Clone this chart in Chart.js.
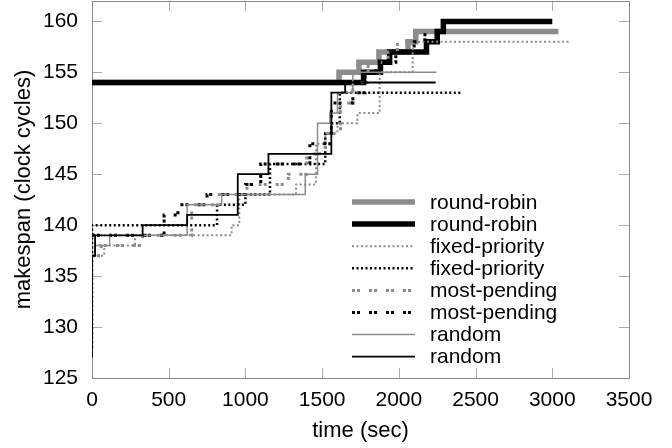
<!DOCTYPE html>
<html>
<head>
<meta charset="utf-8">
<script src="https://cdn.jsdelivr.net/npm/chart.js@4.4.1/dist/chart.umd.min.js"></script>
<style>
  html, body { margin: 0; padding: 0; background: #fff; }
  #wrap { width: 672px; height: 448px; }
</style>
</head>
<body>
<div id="wrap"><canvas id="chart" width="672" height="448"></canvas></div>
<script>
// tick labels
const xTicks = [0, 500, 1000, 1500, 2000, 2500, 3000, 3500];
const yTicks = [125, 130, 135, 140, 145, 150, 155, 160];

// series: step times (sec) and makespan values
const rrGrayT = [0, 1610, 1740, 1870, 2060, 2110, 3040];
const rrGrayV = [154, 155, 156, 157, 158, 159, 159];

const rrBlackT = [0, 1770, 1880, 1940, 2180, 2250, 2290, 3000];
const rrBlackV = [154, 155, 156, 157, 158, 159, 160, 160];

const fpGrayT = [0, 80, 280, 910, 960, 1330, 1460, 1520, 1600, 1730, 1875, 2090, 3110];
const fpGrayV = [137, 138, 139, 140, 143, 144, 148, 149, 150, 151, 155, 158, 158];

const fpBlackT = [0, 0, 815, 1000, 1160, 1520, 1560, 1615, 2410];
const fpBlackV = [128, 140, 142, 143, 146, 149, 150, 153, 153];

const mpGrayT = [0, 60, 330, 650, 820, 1010, 1280, 1400, 1520, 1620, 1700, 1800, 1930, 1990, 2100];
const mpGrayV = [137, 138, 139, 142, 143, 144, 145, 147, 149, 152, 154, 156, 157, 158, 158];

const mpBlackT = [0, 470, 560, 750, 1000, 1100, 1420, 1560, 1700, 1780, 1850, 1980, 2100, 2170, 2200];
const mpBlackV = [139, 141, 142, 143, 144, 146, 148, 152, 153, 155, 156, 157, 158, 159, 159];

const rndGrayT = [0, 20, 115, 620, 845, 1390, 1470, 1550, 1600, 1700, 2245];
const rndGrayV = [137, 138, 139, 142, 143, 145, 150, 151, 153, 155, 155];

const rndBlackT = [0, 0, 20, 330, 620, 950, 1150, 1560, 1650, 2240];
const rndBlackV = [127, 137, 139, 140, 141, 145, 147, 153, 154, 154];

const GRAY = '#8c8c8c';
const BLACK = '#000000';
const FONT = '"Liberation Sans", Arial, sans-serif';

const toPoints = (ts, vs) => ts.map((t, i) => ({ x: t, y: vs[i] }));

function series(label, ts, vs, color, width, dash, idx) {
    return {
        label,
        data: toPoints(ts, vs),
        borderColor: color,
        borderWidth: width,
        borderDash: dash,
        borderCapStyle: 'butt',
        stepped: true,
        pointRadius: 0,
        fill: false,
        order: 8 - idx   // later series drawn on top, like gnuplot
    };
}

const datasets = [
    series('round-robin', rrGrayT, rrGrayV, GRAY, 5.5, [], 0),
    series('round-robin', rrBlackT, rrBlackV, BLACK, 5.5, [], 1),
    series('fixed-priority', fpGrayT, fpGrayV, GRAY, 2, [2, 2.5], 2),
    series('fixed-priority', fpBlackT, fpBlackV, BLACK, 2.5, [2, 2.5], 3),
    series('most-pending', mpGrayT, mpGrayV, GRAY, 3, [3, 2, 3, 9], 4),
    series('most-pending', mpBlackT, mpBlackV, BLACK, 3, [3, 2, 3, 9], 5),
    series('random', rndGrayT, rndGrayV, GRAY, 1.5, [], 6),
    series('random', rndBlackT, rndBlackV, BLACK, 1.8, [], 7)
];

// gnuplot-style frame with inward ticks on all four sides
const framePlugin = {
    id: 'frame',
    beforeDatasetsDraw(chart) {
        const { ctx, chartArea: a, scales } = chart;
        ctx.save();
        ctx.strokeStyle = '#aaaaaa';
        ctx.lineWidth = 1;
        ctx.beginPath();
        scales.x.ticks.forEach(t => {
            const px = Math.round(scales.x.getPixelForValue(t.value)) + 0.5;
            ctx.moveTo(px, a.bottom); ctx.lineTo(px, a.bottom - 10);
            ctx.moveTo(px, a.top); ctx.lineTo(px, a.top + 10);
        });
        scales.y.ticks.forEach(t => {
            const py = Math.round(scales.y.getPixelForValue(t.value)) + 0.5;
            ctx.moveTo(a.left, py); ctx.lineTo(a.left + 10, py);
            ctx.moveTo(a.right, py); ctx.lineTo(a.right - 10, py);
        });
        ctx.stroke();
        ctx.strokeStyle = '#888888';
        ctx.strokeRect(Math.round(a.left) + 0.5, Math.round(a.top) + 0.5,
            Math.round(a.right - a.left), Math.round(a.bottom - a.top));
        ctx.restore();
    }
};

// key drawn inside the plot, lower right
const keyPlugin = {
    id: 'key',
    afterDatasetsDraw(chart) {
        const ctx = chart.ctx;
        ctx.save();
        chart.data.datasets.forEach((ds, i) => {
            const y = 202 + i * 22.1;
            ctx.strokeStyle = ds.borderColor;
            ctx.lineWidth = ds.borderWidth;
            ctx.lineCap = 'butt';
            ctx.setLineDash(ds.borderDash || []);
            ctx.beginPath();
            ctx.moveTo(352, y);
            ctx.lineTo(415, y);
            ctx.stroke();
            ctx.setLineDash([]);
            ctx.fillStyle = '#000';
            ctx.font = '21px ' + FONT;
            ctx.textBaseline = 'middle';
            ctx.textAlign = 'left';
            ctx.fillText(ds.label, 430, y + 1);
        });
        ctx.restore();
    }
};

Chart.defaults.font.family = FONT;
Chart.defaults.font.size = 21;
Chart.defaults.color = '#000';

new Chart(document.getElementById('chart'), {
    type: 'line',
    data: { datasets },
    options: {
        responsive: false,
        animation: false,
        devicePixelRatio: 1,
        layout: { padding: { top: 1, right: 43, left: 0, bottom: 0 } },
        plugins: {
            legend: { display: false },
            tooltip: { enabled: false }
        },
        scales: {
            x: {
                type: 'linear',
                min: 0,
                max: 3500,
                afterBuildTicks: s => { s.ticks = xTicks.map(v => ({ value: v })); },
                afterFit: s => { s.height = 70; s.paddingLeft = 0; s.paddingRight = 0; },
                grid: { display: false, drawTicks: false },
                border: { display: false },
                ticks: { padding: 10, maxRotation: 0, callback: v => String(v) },
                title: { display: true, text: 'time (sec)', padding: 4, font: { size: 22 } }
            },
            y: {
                type: 'linear',
                min: 125,
                max: 162,
                afterBuildTicks: s => { s.ticks = yTicks.map(v => ({ value: v })); },
                afterFit: s => { s.width = 92; s.paddingTop = 0; s.paddingBottom = 0; },
                grid: { display: false, drawTicks: false },
                border: { display: false },
                ticks: { padding: 14, callback: v => String(v) },
                title: { display: true, text: 'makespan (clock cycles)', padding: { top: 11, bottom: 0 }, font: { size: 22 } }
            }
        }
    },
    plugins: [framePlugin, keyPlugin]
});
</script>
</body>
</html>
